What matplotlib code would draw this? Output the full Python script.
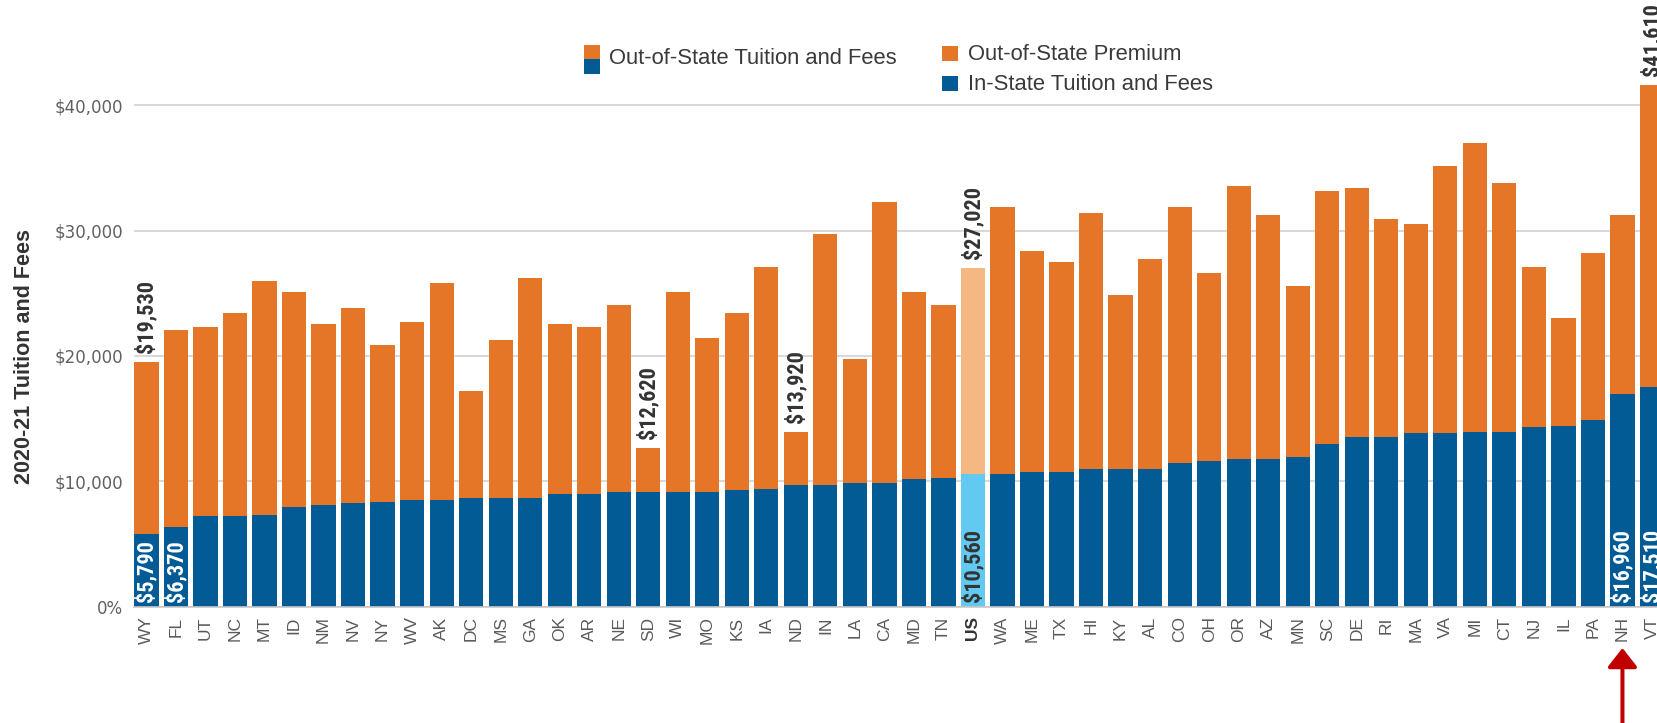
import matplotlib
matplotlib.use('Agg')
import matplotlib.pyplot as plt
from matplotlib import font_manager
from matplotlib.patches import Rectangle

# 2020-21 tuition and fees, sorted by in-state cost
states = ['WY', 'FL', 'UT', 'NC', 'MT', 'ID', 'NM', 'NV', 'NY', 'WV', 'AK', 'DC', 'MS',
          'GA', 'OK', 'AR', 'NE', 'SD', 'WI', 'MO', 'KS', 'IA', 'ND', 'IN', 'LA', 'CA',
          'MD', 'TN', 'US', 'WA', 'ME', 'TX', 'HI', 'KY', 'AL', 'CO', 'OH', 'OR', 'AZ',
          'MN', 'SC', 'DE', 'RI', 'MA', 'VA', 'MI', 'CT', 'NJ', 'IL', 'PA', 'NH', 'VT']
in_state = [5790, 6370, 7210, 7210, 7350, 7940, 8090, 8240, 8380, 8530, 8530, 8680, 8680,
            8680, 8970, 8970, 9120, 9120, 9120, 9120, 9270, 9410, 9710, 9710, 9850, 9850,
            10150, 10290, 10560, 10590, 10740, 10740, 10950, 10950, 10950, 11470, 11620, 11770, 11770,
            11910, 12940, 13570, 13570, 13820, 13820, 13970, 13970, 14300, 14450, 14890, 16960, 17510]
out_state = [19530, 22100, 22280, 23460, 25990, 25110, 22570, 23790, 20850, 22720, 25810, 17240, 21250,
             26250, 22570, 22280, 24080, 12620, 25110, 21400, 23460, 27060, 13920, 29710, 19780, 32240,
             25110, 24080, 27020, 31910, 28350, 27460, 31430, 24820, 27760, 31910, 26580, 33530, 31210,
             25550, 33130, 33380, 30880, 30550, 35180, 36950, 33820, 27060, 23020, 28200, 31210, 41610]
premium = [o - i for o, i in zip(out_state, in_state)]

top_labeled = ['WY', 'SD', 'ND', 'US', 'VT']
in_labeled = ['WY', 'FL', 'US', 'NH', 'VT']
highlight = 'US'
arrow_state = 'NH'

yticks = [0, 10000, 20000, 30000, 40000]
ytick_labels = ['0%', '$10,000', '$20,000', '$30,000', '$40,000']

ORANGE = '#e57628'
BLUE = '#035b95'
LIGHT_ORANGE = '#f5b883'
LIGHT_BLUE = '#62c9f1'

plt.rcParams['font.family'] = ['Liberation Sans', 'DejaVu Sans']

available = {f.name for f in font_manager.fontManager.ttflist}
narrow = next((f for f in ['Liberation Sans Narrow', 'Roboto Condensed', 'DejaVu Sans Condensed']
               if f in available), 'Roboto')
label_size = {'Liberation Sans Narrow': 16.5, 'Roboto Condensed': 16,
              'DejaVu Sans Condensed': 13, 'Roboto': 14}[narrow]

W, H = 1657, 723
fig = plt.figure(figsize=(W / 100, H / 100), dpi=100)
ax = fig.add_axes([134.3 / W, 116.3 / H, 1 - 134.3 / W, 601.9 / H])

x = list(range(len(states)))
blue_colors = [LIGHT_BLUE if s == highlight else BLUE for s in states]
orange_colors = [LIGHT_ORANGE if s == highlight else ORANGE for s in states]
ax.bar(x, in_state, width=0.82, color=blue_colors, zorder=2)
ax.bar(x, premium, bottom=in_state, width=0.82, color=orange_colors, zorder=2)

ax.set_xlim(-0.41, 51.17)
ax.set_ylim(0, 48000)
ax.set_yticks(yticks)
ax.set_yticklabels(ytick_labels, family='DejaVu Sans')
ax.set_xticks(x)
ax.set_xticklabels(states)
ax.tick_params(axis='y', length=0, pad=8, labelsize=12, labelcolor='#606060')
ax.tick_params(axis='x', length=0, pad=7, labelrotation=90, labelsize=12.5, labelcolor='#5a5a5a')
for lbl in ax.get_xticklabels():
    if lbl.get_text() == highlight:
        lbl.set_fontweight('bold')
        lbl.set_color('#333333')

ax.yaxis.grid(True, color='#d2d2d2', lw=1.2)
ax.set_axisbelow(True)
for side in ['top', 'right', 'left']:
    ax.spines[side].set_visible(False)
ax.spines['bottom'].set_color('#c8c8c8')
ax.spines['bottom'].set_linewidth(1.2)

# value labels
for i, s in enumerate(states):
    if s in top_labeled:
        ax.annotate(f'${out_state[i]:,}', (i, out_state[i]), xytext=(0, 6.5),
                    textcoords='offset points', rotation=90, ha='center', va='bottom',
                    family=narrow, fontsize=label_size, fontweight='bold', color='#333333',
                    annotation_clip=False)
    if s in in_labeled:
        ax.annotate(f'${in_state[i]:,}', (i, 0), xytext=(0, 3.2),
                    textcoords='offset points', rotation=90, ha='center', va='bottom',
                    family=narrow, fontsize=label_size, fontweight='bold',
                    color='#333333' if s == highlight else 'white', zorder=3)

fig.text(25 / W, 1 - 356 / H, '2020-21 Tuition and Fees', rotation=90, ha='center', va='center',
         fontsize=15.5, fontweight='bold', color='#333333')


# legend, drawn by hand
def fig_box(x0, y0, w, h, color):
    fig.add_artist(Rectangle((x0 / W, 1 - (y0 + h) / H), w / W, h / H,
                             transform=fig.transFigure, color=color, lw=0))


fig_box(584, 45, 16, 14.5, ORANGE)
fig_box(584, 59.5, 16, 14.5, BLUE)
fig_box(942, 46, 16, 15, ORANGE)
fig_box(942, 76, 16, 15, BLUE)
leg_kw = dict(fontsize=15.8, color='#3a3a3a', va='center', ha='left')
fig.text(609 / W, 1 - 58 / H, 'Out-of-State Tuition and Fees', **leg_kw)
fig.text(968 / W, 1 - 54 / H, 'Out-of-State Premium', **leg_kw)
fig.text(968 / W, 1 - 84 / H, 'In-State Tuition and Fees', **leg_kw)

# red arrow under NH
k = states.index(arrow_state)
ax.annotate('', xy=(k, -0.0686), xytext=(k, -0.21), xycoords=ax.get_xaxis_transform(),
            annotation_clip=False,
            arrowprops=dict(arrowstyle='-|>,head_length=1.15,head_width=0.9', mutation_scale=10,
                            color='#c00000', lw=2.9, shrinkA=0, shrinkB=0))

fig.savefig('out.png', dpi=100)
